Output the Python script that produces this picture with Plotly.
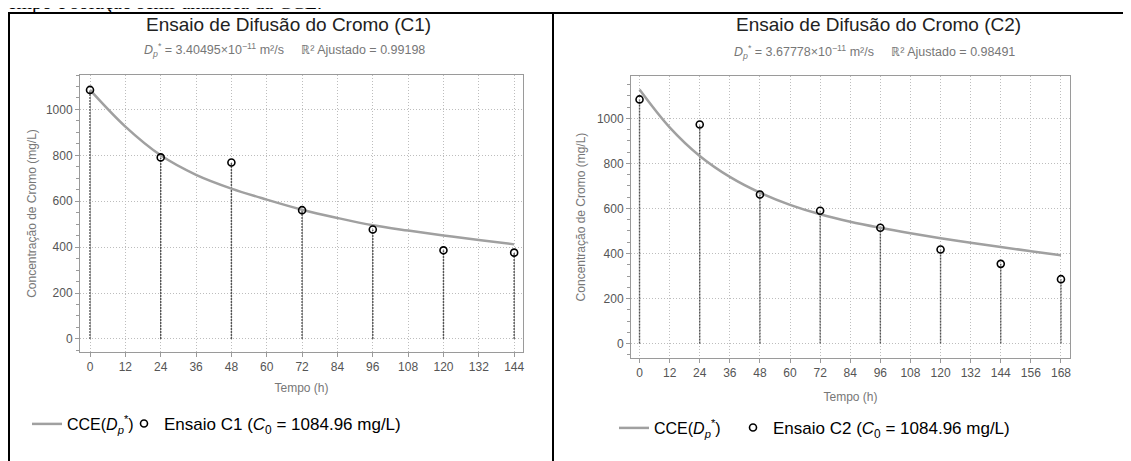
import plotly.graph_objects as go

# ---- data ----
tempo_c1 = [0, 24, 48, 72, 96, 120, 144]            # h
ensaio_c1 = [1085, 791, 769, 561, 477, 386, 376]    # mg/L

tempo_c2 = [0, 24, 48, 72, 96, 120, 144, 168]
ensaio_c2 = [1084, 973, 662, 590, 514, 418, 354, 286]

# CCE(D*) curves, sampled by eye every 12 h
curva_t1 = [0, 12, 24, 36, 48, 60, 72, 84, 96, 108, 120, 132, 144]
curva_c1 = [1085, 925, 800, 715, 655, 607, 563, 527, 495, 472, 451, 431, 412]

curva_t2 = [0, 12, 24, 36, 48, 60, 72, 84, 96, 108, 120, 132, 144, 156, 168]
curva_c2 = [1128, 960, 833, 740, 670, 616, 574, 541, 514, 490, 468, 448, 429, 410, 392]

ticks_x1 = list(range(0, 145, 12))
ticks_x2 = list(range(0, 169, 12))
ticks_y = [0, 200, 400, 600, 800, 1000]

W, H = 1131, 461
OFF = 8  # page body margin: the figure starts 8 px right and 8 px down
FONT = "Arial, Liberation Sans, sans-serif"
DSTAR = "<i>D</i><sub><i>p</i></sub><sup>*</sup>"


# positions are given in page pixels, converted to paper fractions
def px(x):
    return (x - OFF) / W


def py(y):
    return 1 - (y - OFF) / H


def stems(ts, vs):
    xs, ys = [], []
    for t, v in zip(ts, vs):
        xs += [t, t, None]
        ys += [0, v, None]
    return xs, ys


fig = go.Figure()

panels = [
    ("x", "y", "legend", "legend3", tempo_c1, ensaio_c1, curva_t1, curva_c1, "C1"),
    ("x2", "y2", "legend2", "legend4", tempo_c2, ensaio_c2, curva_t2, curva_c2, "C2"),
]

for xa, ya, lg_curva, lg_pts, ts, vs, ct, cv, nome in panels:
    sx, sy = stems(ts, vs)
    fig.add_trace(go.Scatter(x=sx, y=sy, xaxis=xa, yaxis=ya, mode="lines",
                             line=dict(color="#555555", width=1.4, dash="2px,1px"),
                             showlegend=False, hoverinfo="skip"))
    fig.add_trace(go.Scatter(x=ct, y=cv, xaxis=xa, yaxis=ya, mode="lines",
                             line=dict(color="#a0a0a0", width=2.5, shape="spline"),
                             name="CCE(" + DSTAR + ")", legend=lg_curva))
    fig.add_trace(go.Scatter(x=ts, y=vs, xaxis=xa, yaxis=ya, mode="markers",
                             marker=dict(symbol="circle-open", size=7, color="black",
                                         line=dict(width=1.6, color="black")),
                             name="Ensaio " + nome + " (<i>C</i><sub>0</sub> = 1084.96 mg/L)",
                             legend=lg_pts))

axis_common = dict(showline=True, linecolor="#9a9a9a", linewidth=1, mirror=True,
                   ticks="outside", ticklen=4, tickcolor="#9a9a9a",
                   showgrid=True, gridcolor="#bdbdbd", griddash="1px,2px", gridwidth=1,
                   zeroline=False, tickfont=dict(family=FONT, size=12, color="#555555"))
titulo_eixo = dict(size=12, color="#777777")


def legenda(x, y, size=17):
    return dict(orientation="h", x=px(x), y=py(y), xanchor="left", yanchor="middle",
                font=dict(family=FONT, size=size, color="black"), bgcolor="rgba(0,0,0,0)")


fig.update_layout(
    width=W, height=H,
    margin=dict(l=0, r=0, t=0, b=0),
    paper_bgcolor="white", plot_bgcolor="white",
    font=dict(family=FONT),
    xaxis=dict(domain=[px(80), px(523)], range=[-3.4, 147], tickvals=ticks_x1,
               anchor="y", title=dict(text="Tempo (h)", standoff=10, font=titulo_eixo),
               **axis_common),
    yaxis=dict(domain=[py(352), py(75)], range=[-57, 1150], tickvals=ticks_y,
               anchor="x", minor=dict(dtick=50, ticklen=3, tickcolor="#9a9a9a", showgrid=False),
               title=dict(text="Concentração de Cromo (mg/L)", standoff=6, font=titulo_eixo),
               **axis_common),
    xaxis2=dict(domain=[px(631), px(1070)], range=[-3.4, 171.6], tickvals=ticks_x2,
                anchor="y2", title=dict(text="Tempo (h)", standoff=13, font=titulo_eixo),
                **axis_common),
    yaxis2=dict(domain=[py(358), py(76)], range=[-64, 1188], tickvals=ticks_y,
                anchor="x2", minor=dict(dtick=50, ticklen=3, tickcolor="#9a9a9a", showgrid=False),
                title=dict(text="Concentração de Cromo (mg/L)", standoff=8, font=titulo_eixo),
                **axis_common),
    legend=legenda(27, 424, 16),
    legend3=legenda(124, 424),
    legend2=legenda(614, 428, 16),
    legend4=legenda(733, 428),
)

# titles and fit info
titulos = [
    (288, "Ensaio de Difusão do Cromo (C1)", 50,
     DSTAR + " = 3.40495×10<sup>−11</sup> m²/s     ℝ² Ajustado = 0.99198"),
    (878, "Ensaio de Difusão do Cromo (C2)", 52,
     DSTAR + " = 3.67778×10<sup>−11</sup> m²/s     ℝ² Ajustado = 0.98491"),
]
for cx, titulo, ysub, sub in titulos:
    fig.add_annotation(text=titulo, x=px(cx), y=py(24), xref="paper", yref="paper",
                       showarrow=False, xanchor="center", yanchor="middle",
                       font=dict(family=FONT, size=19, color="#222222"))
    fig.add_annotation(text=sub, x=px(cx - 4), y=py(ysub), xref="paper", yref="paper",
                       showarrow=False, xanchor="center", yanchor="middle",
                       font=dict(family=FONT, size=12.5, color="#777777"))

# document text cut off at the top
fig.add_annotation(text="tempo e solução semi-analítica da CCE.", x=px(0), y=py(15.5),
                   xref="paper", yref="paper", showarrow=False, xanchor="left",
                   yanchor="bottom", font=dict(family="Liberation Serif, Times New Roman, serif",
                                               size=20, color="black"))

# frame boxes around the two panels
for x0, y0, x1, y1 in [(8, 13, 1124, 13), (9, 13, 9, 470), (553, 13, 553, 470),
                       (1124, 13, 1124, 470)]:
    fig.add_shape(type="line", xref="paper", yref="paper",
                  x0=px(x0), y0=py(y0), x1=px(x1), y1=py(y1),
                  line=dict(color="black", width=2))

fig.write_html("out.html")
